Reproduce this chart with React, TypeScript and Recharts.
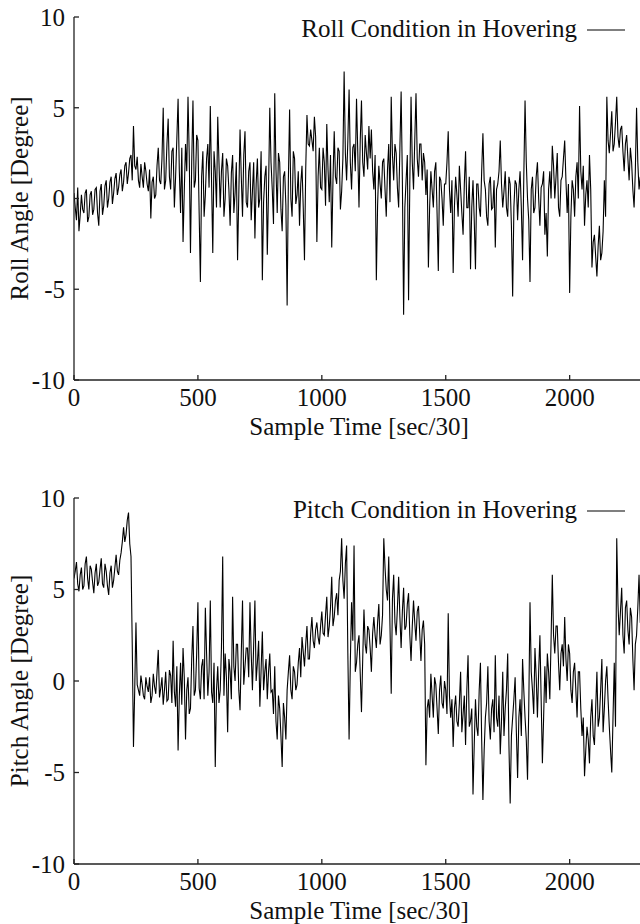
import React from "react";
import { LineChart, Line, XAxis, YAxis } from "recharts";

// sample time [sec/30]
const TIME = [
  0, 10, 20, 30, 40, 50, 60, 70, 80, 90, 100, 110, 120, 130, 140, 150, 160, 170, 180, 190,
  200, 210, 220, 230, 240, 250, 260, 270, 280, 290, 300, 310, 320, 330, 340, 350, 360, 370, 380, 390,
  400, 410, 420, 430, 440, 450, 460, 470, 480, 490, 500, 510, 520, 530, 540, 550, 560, 570, 580, 590,
  600, 610, 620, 630, 640, 650, 660, 670, 680, 690, 700, 710, 720, 730, 740, 750, 760, 770, 780, 790,
  800, 810, 820, 830, 840, 850, 860, 870, 880, 890, 900, 910, 920, 930, 940, 950, 960, 970, 980, 990,
  1000, 1010, 1020, 1030, 1040, 1050, 1060, 1070, 1080, 1090, 1100, 1110, 1120, 1130, 1140, 1150, 1160, 1170, 1180, 1190,
  1200, 1210, 1220, 1230, 1240, 1250, 1260, 1270, 1280, 1290, 1300, 1310, 1320, 1330, 1340, 1350, 1360, 1370, 1380, 1390,
  1400, 1410, 1420, 1430, 1440, 1450, 1460, 1470, 1480, 1490, 1500, 1510, 1520, 1530, 1540, 1550, 1560, 1570, 1580, 1590,
  1600, 1610, 1620, 1630, 1640, 1650, 1660, 1670, 1680, 1690, 1700, 1710, 1720, 1730, 1740, 1750, 1760, 1770, 1780, 1790,
  1800, 1810, 1820, 1830, 1840, 1850, 1860, 1870, 1880, 1890, 1900, 1910, 1920, 1930, 1940, 1950, 1960, 1970, 1980, 1990,
  2000, 2010, 2020, 2030, 2040, 2050, 2060, 2070, 2080, 2090, 2100, 2110, 2120, 2130, 2140, 2150, 2160, 2170, 2180, 2190,
  2200, 2210, 2220, 2230, 2240, 2250, 2260, 2270, 2280, 2290,
];

// in-between samples
const TIME_MID = [
  5, 15, 25, 35, 45, 55, 65, 75, 85, 95, 105, 115, 125, 135, 145, 155, 165, 175, 185, 195,
  205, 215, 225, 235, 245, 255, 265, 275, 285, 295, 305, 315, 325, 335, 345, 355, 365, 375, 385, 395,
  405, 415, 425, 435, 445, 455, 465, 475, 485, 495, 505, 515, 525, 535, 545, 555, 565, 575, 585, 595,
  605, 615, 625, 635, 645, 655, 665, 675, 685, 695, 705, 715, 725, 735, 745, 755, 765, 775, 785, 795,
  805, 815, 825, 835, 845, 855, 865, 875, 885, 895, 905, 915, 925, 935, 945, 955, 965, 975, 985, 995,
  1005, 1015, 1025, 1035, 1045, 1055, 1065, 1075, 1085, 1095, 1105, 1115, 1125, 1135, 1145, 1155, 1165, 1175, 1185, 1195,
  1205, 1215, 1225, 1235, 1245, 1255, 1265, 1275, 1285, 1295, 1305, 1315, 1325, 1335, 1345, 1355, 1365, 1375, 1385, 1395,
  1405, 1415, 1425, 1435, 1445, 1455, 1465, 1475, 1485, 1495, 1505, 1515, 1525, 1535, 1545, 1555, 1565, 1575, 1585, 1595,
  1605, 1615, 1625, 1635, 1645, 1655, 1665, 1675, 1685, 1695, 1705, 1715, 1725, 1735, 1745, 1755, 1765, 1775, 1785, 1795,
  1805, 1815, 1825, 1835, 1845, 1855, 1865, 1875, 1885, 1895, 1905, 1915, 1925, 1935, 1945, 1955, 1965, 1975, 1985, 1995,
  2005, 2015, 2025, 2035, 2045, 2055, 2065, 2075, 2085, 2095, 2105, 2115, 2125, 2135, 2145, 2155, 2165, 2175, 2185, 2195,
  2205, 2215, 2225, 2235, 2245, 2255, 2265, 2275, 2285, 2295,
];

// roll angle [degree] at TIME
const ROLL = [
  0.3, -1.2, -1.8, 0.2, -0.8, 0.5, -1.0, 0.4, -0.6, 0.6,
  -1.5, 0.8, -0.4, 1.0, 0.0, 1.2, 0.3, 1.4, 0.6, 1.6,
  0.9, 2.0, 1.4, 2.4, 4.0, 1.6, 1.0, 1.9, 0.6, 1.5,
  0.4, -1.1, 1.2, 0.2, 2.8, 0.8, 5.0, 1.0, 4.4, 0.5,
  2.8, 1.2, 5.5, -0.8, -2.4, 3.0, 5.6, -3.0, 5.4, 1.0,
  3.2, -4.6, 2.6, 0.2, 3.0, 5.1, -3.0, 1.5, 4.5, -0.5,
  2.5, 0.0, 1.8, -1.5, 2.4, 0.3, -3.4, 3.8, -1.0, 3.7,
  -0.5, 2.0, 0.4, -2.2, 2.2, 0.0, -4.5, 1.2, -3.1, 5.0,
  0.5, 5.8, -0.8, 2.0, -1.8, 1.5, -5.9, 4.9, -1.0, 2.2,
  0.2, -1.5, 1.8, -3.4, 4.6, 2.9, 3.2, 4.5, -2.4, 2.8,
  0.5, 2.0, 4.1, -0.2, -2.7, 3.7, 0.8, 2.6, 0.4, 7.0,
  1.0, 6.0, 0.5, 3.0, 5.5, -0.5, 5.4, 1.2, 2.5, 4.0,
  3.8, 0.5, -4.5, 1.8, 0.0, 2.2, -1.0, 3.0, 5.6, 1.0,
  2.5, -0.5, 5.9, -6.4, 1.0, -5.6, 5.6, 0.5, 5.8, 1.2,
  3.0, 2.5, 0.2, -3.8, 1.5, -0.5, 2.0, -4.0, 1.0, -1.5,
  0.8, 3.7, -0.8, -4.1, 1.2, -1.0, 0.5, -2.0, 2.6, -0.5,
  -3.9, 1.0, -3.9, 0.8, -1.0, 3.6, 0.5, -1.5, 1.2, -0.5,
  -2.7, 0.8, 3.2, -0.5, 1.5, -1.0, 0.8, -5.4, 1.0, -1.2,
  1.5, -3.4, 5.4, 0.0, -4.6, 1.2, -0.5, 2.0, -1.5, 0.8,
  -2.0, -3.2, 1.5, 2.9, 0.0, 2.5, -1.0, 1.2, 3.2, -0.8,
  -5.2, 1.0, -1.0, 2.0, 5.1, 0.5, -1.5, 1.0, 2.4, -3.8,
  -2.0, -4.3, -1.5, -3.0, 1.0, 5.6, 2.5, 4.8, 3.0, 5.6,
  2.8, 4.0, 1.5, 3.5, 1.0, 2.0, -0.5, 5.0, 0.5, 1.0,
];

// roll angle [degree] at TIME_MID
const ROLL_MID = [
  -0.5, 0.6, -0.9, -0.6, 0.3, -1.3, 0.2, -0.9, 0.5, -0.8,
  0.4, -0.9, 0.7, -0.5, 0.9, -0.3, 1.1, 0.2, 1.3, 0.4,
  1.8, 0.8, 2.2, 1.0, 1.8, 2.3, 0.6, 1.2, 2.0, 0.8,
  1.6, 0.9, 0.0, 1.8, 1.0, 2.2, 0.5, 3.0, 1.2, 2.6,
  -0.5, 3.3, 1.5, 2.8, 0.4, 1.5, 2.4, 2.0, 0.6, 3.5,
  -0.8, 1.2, -1.0, 2.2, 0.6, 1.0, 2.6, -0.5, 2.0, 1.5,
  -1.0, 2.2, 0.5, 1.4, -0.8, 2.0, 0.2, 1.2, 2.4, -0.2,
  1.5, -1.2, 2.0, 0.8, -0.5, 2.6, -0.2, 1.8, 0.5, 2.0,
  -1.4, 1.6, 2.5, -0.6, 1.2, -0.4, 1.0, 0.0, 2.6, -0.3,
  1.5, 0.8, -0.5, 1.6, 3.0, 3.8, 2.6, 3.4, 1.2, 0.6,
  2.8, -0.4, 1.6, 2.4, 1.0, 1.2, 2.8, -0.6, 2.2, 2.5,
  3.2, 2.0, 2.8, 1.5, 2.6, 3.2, 2.0, 3.5, 1.6, 2.2,
  1.5, 2.4, -0.4, 0.8, 2.0, 0.5, 1.6, -0.2, 2.4, 3.0,
  0.6, 2.8, 1.0, -0.5, 2.4, 0.8, 2.0, 3.2, 2.2, 3.0,
  1.0, 2.0, 1.6, -0.5, 0.5, 1.5, -0.8, 1.2, 0.0, 0.8,
  2.0, 0.5, 1.0, -0.5, 0.2, 1.8, -0.8, 0.8, -0.5, 1.2,
  -0.5, -1.2, 0.8, -0.5, 1.5, 1.0, -1.0, 0.8, -0.6, 1.0,
  0.5, 1.5, 0.8, 0.4, -0.5, 1.2, -1.5, -0.5, 0.8, 0.5,
  -0.5, 1.2, 2.0, -1.2, 0.5, -0.8, 1.2, 0.0, 0.6, 1.5,
  -0.8, 0.5, 0.0, 1.8, 1.2, -0.5, 1.0, 2.2, 1.0, 0.8,
  -1.0, 0.5, 1.2, 0.0, 1.5, 1.8, 0.2, -0.5, 0.5, -2.4,
  -3.2, -2.6, -3.4, -1.8, -1.0, 3.2, 3.6, 2.6, 4.2, 3.4,
  3.8, 2.6, 3.0, 2.2, 2.8, 0.5, 1.5, 2.0, 1.2, 0.4,
];

// pitch angle [degree] at TIME
const PITCH = [
  5.6, 6.5, 4.9, 6.2, 5.2, 6.8, 5.0, 6.1, 4.8, 6.4,
  5.4, 6.7, 5.1, 6.0, 4.7, 6.3, 5.5, 6.9, 5.8, 7.0,
  8.4, 8.0, 9.2, 6.8, -3.6, 3.2, -0.5, 0.3, -0.8, 0.2,
  -0.6, -1.2, 0.4, -0.7, 1.7, -0.4, -1.3, 0.5, -1.0, 0.3,
  2.2, -1.4, -3.8, 1.0, 1.8, -3.2, 0.2, -1.5, 3.0, -0.5,
  4.3, -1.0, 1.2, 4.0, -0.8, 4.4, -1.2, -4.7, 0.8, -0.5,
  6.8, 1.5, -2.8, 0.5, 4.6, 0.0, 2.0, -1.6, 4.4, 0.8,
  1.8, 4.3, -0.5, 4.4, 1.0, -1.4, 2.7, 0.5, -1.0, 1.5,
  -0.5, 0.8, -3.2, -1.5, -4.7, -2.0, -0.5, 1.4, -1.0, 0.5,
  -0.2, 1.8, 2.4, 0.8, 3.0, 1.2, 3.5, 1.8, 3.2, 2.0,
  3.8, 2.5, 4.6, 3.0, 5.7, 3.5, 4.8, 5.5, 7.8, 4.5,
  7.4, -3.2, 4.3, 7.4, 1.0, 2.5, -1.7, 3.9, 1.5, 2.8,
  0.5, 3.5, 1.8, 4.2, 2.5, 7.8, 5.0, 6.8, -0.7, 5.8,
  2.5, 5.7, 1.8, 5.1, 3.0, 4.8, 1.1, 4.4, 2.2, 4.1,
  1.1, 3.3, -4.6, -1.0, 0.4, -2.0, -0.2, -2.9, 0.3, -1.5,
  -0.5, 3.7, -2.0, -3.6, -0.8, -2.5, 0.5, -1.8, -3.5, 1.4,
  -2.2, -6.2, -1.0, -3.0, 1.0, -6.5, -2.0, 0.8, -3.2, -1.0,
  1.4, -2.5, -4.0, 0.5, -1.5, 1.5, -6.7, -2.0, 0.2, -5.3,
  -1.0, 1.2, -2.0, -5.4, 4.3, -0.5, 1.8, -2.0, 2.5, -4.5,
  0.8, 1.5, -1.0, 5.8, 1.5, 3.0, -0.5, 2.0, 3.5, 0.0,
  1.5, -1.2, 1.0, -2.0, 0.5, -3.0, -5.2, -2.5, -4.5, -1.0,
  -3.5, 0.5, -2.0, 1.2, -1.5, 0.8, -2.5, -5.0, 1.0, 7.8,
  2.5, 5.1, 1.5, 4.4, 2.0, 3.5, -0.5, 2.5, 5.8, 3.0,
];

// pitch angle [degree] at TIME_MID
const PITCH_MID = [
  6.0, 5.3, 5.8, 5.0, 6.4, 5.6, 6.3, 5.4, 5.9, 5.2,
  6.1, 5.3, 6.4, 5.2, 5.9, 5.1, 6.2, 6.0, 6.6, 7.6,
  7.6, 8.8, 7.5, 2.0, -0.5, -0.2, -0.8, -0.2, -1.0, -0.3,
  0.2, -0.8, -0.3, 0.5, -0.9, 0.2, -0.5, -1.1, 0.6, -1.2,
  -0.6, 0.8, -0.8, -1.3, 0.2, -0.5, -1.8, 1.2, -0.8, 1.5,
  -0.4, 0.8, -1.0, 1.5, 0.5, -0.6, 1.0, -0.5, -1.2, 1.8,
  -0.8, 0.2, 1.2, -1.0, 0.8, 2.0, -0.5, 1.5, -0.2, 1.8,
  0.2, 1.5, 2.0, 0.0, 2.2, 0.6, -0.5, 1.2, 0.5, -0.6,
  -1.8, -2.2, -0.8, -3.0, -1.2, -3.2, 0.5, -0.5, 0.8, -0.5,
  1.0, 0.2, 1.6, 2.0, 1.2, 2.6, 2.2, 2.8, 2.4, 3.0,
  2.6, 3.6, 2.4, 4.0, 3.0, 4.4, 3.6, 6.0, 5.5, 6.4,
  1.5, 1.0, 2.2, 0.5, 2.0, 0.4, 1.2, 2.0, 3.0, 1.8,
  2.6, 2.5, 3.2, 2.0, 3.6, 6.2, 4.4, 3.0, 4.5, 3.2,
  4.0, 3.5, 3.8, 2.8, 4.2, 2.5, 3.0, 3.2, 3.8, 2.6,
  2.8, 2.0, -1.5, -2.0, -0.8, 0.2, -1.5, -0.5, -1.2, 0.0,
  -1.8, -0.8, -1.0, -1.5, -2.2, -1.2, -2.8, -0.8, -0.5, -2.5,
  -1.5, -3.5, -2.5, -0.5, -3.2, -3.8, -1.2, -2.2, -1.5, -2.8,
  -2.0, -0.8, -2.2, -3.0, -0.5, -3.5, -3.0, -1.0, -2.8, -2.0,
  -3.0, -0.5, -3.2, -1.5, 0.5, -1.8, 0.2, 0.5, -1.0, -2.0,
  -1.2, 0.5, 2.2, 2.5, 3.0, 1.0, 1.5, 0.8, 1.2, 2.0,
  -0.5, 0.5, -0.5, 0.5, -1.5, -2.0, -3.8, -3.2, -2.0, -3.0,
  -1.5, -2.5, -0.5, -2.8, 0.0, -1.0, -3.8, -2.0, -2.5, 4.2,
  3.8, 2.5, 4.0, 2.8, 4.0, 1.2, 2.0, 4.0, 3.2, 4.5,
];

const X_TICKS = [0, 500, 1000, 1500, 2000];
const Y_TICKS = [-10, -5, 0, 5, 10];

const FONT = '"Liberation Serif", "Times New Roman", serif';
const INK = "#111";
const AXIS = "#222";
const FS = 25;

const CHART_W = 644;
const AXIS_W = 74;

interface PanelProps {
  top: number;
  height: number;
  plotTop: number;
  values: number[];
  midValues: number[];
  yTitle: string;
  legend: string;
}

function Panel({ top, height, plotTop, values, midValues, yTitle, legend }: PanelProps) {
  const data: { t: number; v: number }[] = [];
  TIME.forEach((t, i) => {
    data.push({ t, v: values[i] });
    data.push({ t: TIME_MID[i], v: midValues[i] });
  });

  const axisCommon = {
    stroke: AXIS,
    strokeWidth: 1.3,
    tickSize: -5,
    interval: 0 as const,
  };
  const tickStyle = { fill: INK, fontSize: FS, fontFamily: FONT };

  return (
    <div style={{ position: "absolute", left: 0, top, width: CHART_W, height }}>
      <LineChart
        width={CHART_W}
        height={height}
        data={data}
        margin={{ top: plotTop, right: 0, bottom: 0, left: 0 }}
      >
        <XAxis
          dataKey="t"
          type="number"
          domain={[0, 2300]}
          allowDataOverflow
          ticks={X_TICKS}
          height={60}
          tickMargin={13}
          tick={tickStyle}
          {...axisCommon}
          label={{
            value: "Sample Time [sec/30]",
            position: "insideBottom",
            offset: 5,
            fill: INK,
            fontSize: FS,
            fontFamily: FONT,
          }}
        />
        <XAxis
          xAxisId="top"
          orientation="top"
          dataKey="t"
          type="number"
          domain={[0, 2300]}
          allowDataOverflow
          ticks={X_TICKS}
          height={0}
          tick={false}
          {...axisCommon}
        />
        <YAxis
          type="number"
          domain={[-10, 10]}
          allowDataOverflow
          ticks={Y_TICKS}
          width={AXIS_W}
          tickMargin={14}
          tick={tickStyle}
          {...axisCommon}
          label={{
            value: yTitle,
            angle: -90,
            position: "insideLeft",
            offset: 19,
            fill: INK,
            fontSize: FS,
            fontFamily: FONT,
            style: { textAnchor: "middle" },
          }}
        />
        <YAxis
          yAxisId="right"
          orientation="right"
          type="number"
          domain={[-10, 10]}
          allowDataOverflow
          ticks={Y_TICKS}
          width={0}
          tick={false}
          {...axisCommon}
        />
        <Line
          dataKey="v"
          type="linear"
          stroke="#000"
          strokeWidth={1.1}
          dot={false}
          isAnimationActive={false}
        />
      </LineChart>
      {/* key, gnuplot style: title then a short sample line */}
      <div
        style={{
          position: "absolute",
          top: plotTop - 1,
          right: CHART_W - 625,
          display: "flex",
          alignItems: "flex-start",
          fontFamily: FONT,
          fontSize: FS,
          lineHeight: "25px",
          color: INK,
          whiteSpace: "nowrap",
        }}
      >
        <span>{legend}</span>
        <svg width={48} height={25}>
          <line x1={10} x2={48} y1={14} y2={14} stroke="#000" strokeWidth={1.2} />
        </svg>
      </div>
    </div>
  );
}

export default function App() {
  return (
    <div
      style={{
        position: "absolute",
        left: 0,
        top: 0,
        width: 640,
        height: 924,
        overflow: "hidden",
        background: "#fff",
      }}
    >
      <Panel
        top={0}
        height={440}
        plotTop={17}
        values={ROLL}
        midValues={ROLL_MID}
        yTitle="Roll Angle [Degree]"
        legend="Roll Condition in Hovering"
      />
      <Panel
        top={440}
        height={484}
        plotTop={58}
        values={PITCH}
        midValues={PITCH_MID}
        yTitle="Pitch Angle [Degree]"
        legend="Pitch Condition in Hovering"
      />
    </div>
  );
}
